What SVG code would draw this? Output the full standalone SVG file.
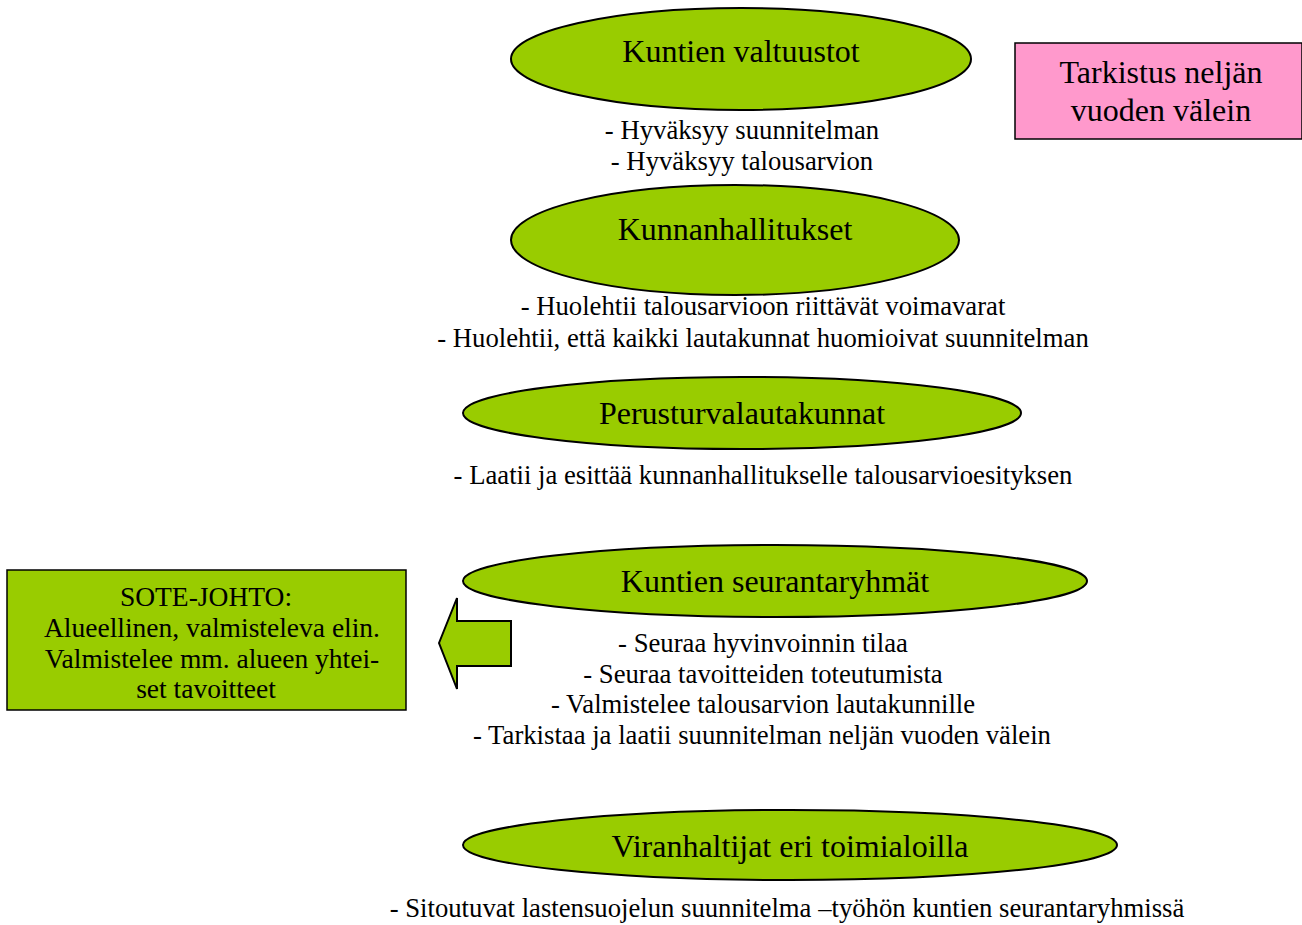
<svg xmlns="http://www.w3.org/2000/svg" width="1302" height="925" viewBox="0 0 1302 925">
<style>
.e{fill:#99cc00;stroke:#000;stroke-width:2}
.t{font-family:"Liberation Serif","Times New Roman",serif;fill:#000;text-anchor:middle}
.big{font-size:32px}
.sm{font-size:26.7px}
.so{font-size:27.5px}
</style>
<rect width="1302" height="925" fill="#fff"/>
<g id="valtuustot">
<ellipse class="e" cx="741" cy="59" rx="230" ry="51"/>
<text class="t big" x="741" y="62">Kuntien valtuustot</text>
<text class="t sm" x="742" y="139">- Hyväksyy suunnitelman</text>
<text class="t sm" x="742" y="170">- Hyväksyy talousarvion</text>
</g>
<g id="tarkistus">
<rect x="1015" y="43" width="287" height="96" fill="#ff99cc" stroke="#000" stroke-width="1.5"/>
<text class="t big" x="1161" y="83">Tarkistus neljän</text>
<text class="t big" x="1161" y="121">vuoden välein</text>
</g>
<g id="kunnanhallitukset">
<ellipse class="e" cx="735" cy="240" rx="224" ry="55"/>
<text class="t big" x="735" y="240">Kunnanhallitukset</text>
<text class="t sm" x="763" y="315">- Huolehtii talousarvioon riittävät voimavarat</text>
<text class="t sm" x="763" y="347">- Huolehtii, että kaikki lautakunnat huomioivat suunnitelman</text>
</g>
<g id="perusturva">
<ellipse class="e" cx="742" cy="413" rx="279" ry="36"/>
<text class="t big" x="742" y="424">Perusturvalautakunnat</text>
<text class="t sm" x="763" y="484">- Laatii ja esittää kunnanhallitukselle talousarvioesityksen</text>
</g>
<g id="seurantaryhmat">
<ellipse class="e" cx="775" cy="581" rx="312" ry="36"/>
<text class="t big" x="775" y="592">Kuntien seurantaryhmät</text>
<text class="t sm" x="763" y="652">- Seuraa hyvinvoinnin tilaa</text>
<text class="t sm" x="763" y="683">- Seuraa tavoitteiden toteutumista</text>
<text class="t sm" x="763" y="713">- Valmistelee talousarvion lautakunnille</text>
<text class="t sm" x="762" y="744">- Tarkistaa ja laatii suunnitelman neljän vuoden välein</text>
</g>
<g id="sote">
<rect x="7" y="570" width="399" height="140" fill="#99cc00" stroke="#000" stroke-width="1.5"/>
<text class="t so" x="206" y="606">SOTE-JOHTO:</text>
<text class="t so" x="212" y="637">Alueellinen, valmisteleva elin.</text>
<text class="t so" x="212" y="668">Valmistelee mm. alueen yhtei-</text>
<text class="t so" x="206" y="698">set tavoitteet</text>
</g>
<g id="viranhaltijat">
<ellipse class="e" cx="790" cy="845" rx="327" ry="35"/>
<text class="t big" x="790" y="857">Viranhaltijat eri toimialoilla</text>
<text class="t sm" x="787" y="917">- Sitoutuvat lastensuojelun suunnitelma –työhön kuntien seurantaryhmissä</text>
</g>
<g id="connectors">
<polygon points="439,643 457,598 457,621 511,621 511,666 457,666 457,689" fill="#99cc00" stroke="#000" stroke-width="2" stroke-linejoin="miter"/>
</g>
</svg>
